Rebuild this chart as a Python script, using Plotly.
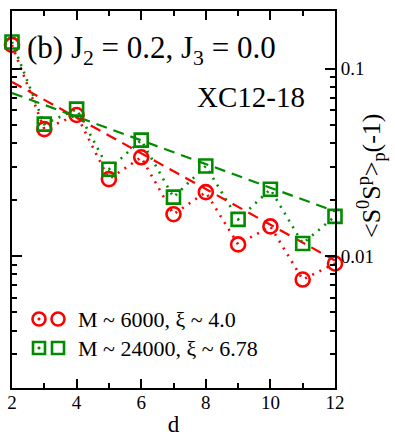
import plotly.graph_objects as go

# ---------------- data ----------------
d = [2, 3, 4, 5, 6, 7, 8, 9, 10, 11, 12]
corr_m6000 = [0.1336, 0.0475, 0.0565, 0.0257, 0.0336, 0.0167, 0.0219,
              0.01153, 0.01438, 0.00749, 0.00912]
corr_m24000 = [0.1386, 0.0505, 0.0607, 0.0290, 0.0415, 0.0206, 0.0302,
               0.01568, 0.02269, 0.01167, 0.01627]
fit_d = [2, 12]
fit_m6000 = [0.0848, 0.00947]
fit_m24000 = [0.0740, 0.0173]
legend_labels = ["M ~ 6000, ξ ~ 4.0", "M ~ 24000, ξ ~ 6.78"]
x_ticks = [2, 4, 6, 8, 10, 12]
x_minor = [3, 5, 7, 9, 11]
y_ticks = [0.01, 0.1]
y_tick_labels = ["0.01", "0.1"]
y_minor = [0.002, 0.003, 0.004, 0.005, 0.006, 0.007, 0.008, 0.009,
           0.02, 0.03, 0.04, 0.05, 0.06, 0.07, 0.08, 0.09]

RED = "#ff0000"
GREEN = "#008b00"
FONT = "Liberation Serif"

fig = go.Figure()

# dashed fits
fig.add_trace(go.Scatter(x=fit_d, y=fit_m6000, mode="lines",
                         line=dict(color=RED, width=2.2, dash="11px,7px"),
                         showlegend=False, cliponaxis=False))
fig.add_trace(go.Scatter(x=fit_d, y=fit_m24000, mode="lines",
                         line=dict(color=GREEN, width=2.2, dash="11px,7px"),
                         showlegend=False, cliponaxis=False))
# data with dotted connecting lines
fig.add_trace(go.Scatter(x=d, y=corr_m6000, mode="lines+markers",
                         line=dict(color=RED, width=2.6, dash="2px,6px"),
                         marker=dict(symbol="circle-open", size=14, color=RED,
                                     line=dict(width=2.6, color=RED)),
                         showlegend=False, cliponaxis=False))
fig.add_trace(go.Scatter(x=d, y=corr_m24000, mode="lines+markers",
                         line=dict(color=GREEN, width=2.6, dash="2px,6px"),
                         marker=dict(symbol="square-open", size=13, color=GREEN,
                                     line=dict(width=2.6, color=GREEN)),
                         showlegend=False, cliponaxis=False))

W, H = 395, 437
L, R, T, B = 12, 60, 11, 49
PW, PH = W - L - R, H - T - B


def px(xp):
    return (xp - L) / PW


def py(yp):
    return (H - B - yp) / PH


annotations = [
    dict(x=px(25), y=py(50), xref="paper", yref="paper", xanchor="left",
         yanchor="middle", showarrow=False,
         text="(b) J<sub>2</sub> = 0.2, J<sub>3</sub> = 0.0",
         font=dict(family=FONT, size=31, color="black")),
    dict(x=px(195), y=py(97), xref="paper", yref="paper", xanchor="left",
         yanchor="middle", showarrow=False, text="XC12-18",
         font=dict(family=FONT, size=29, color="black")),
    dict(x=px(76), y=py(319), xref="paper", yref="paper", xanchor="left",
         yanchor="middle", showarrow=False, text=legend_labels[0],
         font=dict(family=FONT, size=22, color="black")),
    dict(x=px(76), y=py(348), xref="paper", yref="paper", xanchor="left",
         yanchor="middle", showarrow=False, text=legend_labels[1],
         font=dict(family=FONT, size=22, color="black")),
    dict(x=px(371), y=py(176), xref="paper", yref="paper", xanchor="center",
         yanchor="middle", showarrow=False, textangle=-90,
         text="<S<sup>0</sup>S<sup>p</sup>><sub>p</sub>(-1)",
         font=dict(family=FONT, size=26, color="black")),
]

shapes = []
# legend symbols (pixel-sized shapes anchored in paper coords)
for cx, cy, kind, col in [(39, 319, "circle", RED), (58, 319, "circle", RED),
                          (39, 348, "rect", GREEN), (58, 348, "rect", GREEN)]:
    r = 6.5 if kind == "circle" else 6
    shapes.append(dict(type=kind, xref="paper", yref="paper",
                       xsizemode="pixel", ysizemode="pixel",
                       xanchor=px(cx), yanchor=py(cy),
                       x0=-r, x1=r, y0=-r, y1=r,
                       line=dict(color=col, width=2.6)))
for cx, cy, col in [(39, 319, RED), (39, 348, GREEN)]:
    shapes.append(dict(type="circle", xref="paper", yref="paper",
                       xsizemode="pixel", ysizemode="pixel",
                       xanchor=px(cx), yanchor=py(cy),
                       x0=-1.3, x1=1.3, y0=-1.3, y1=1.3,
                       fillcolor=col, line=dict(color=col, width=0.5)))

fig.update_layout(
    width=W, height=H,
    margin=dict(l=L, r=R, t=T, b=B, pad=0),
    paper_bgcolor="white", plot_bgcolor="white",
    showlegend=False,
    font=dict(family=FONT, size=19, color="black"),
    annotations=annotations,
    shapes=shapes,
    xaxis=dict(range=[2, 12], tickvals=x_ticks, ticks="inside", ticklen=9,
               tickwidth=2, tickcolor="black", showline=True, linewidth=2,
               linecolor="black", mirror="ticks", showgrid=False,
               zeroline=False, automargin=False, ticklabelstandoff=-4,
               tickfont=dict(family=FONT, size=19),
               title=dict(text="d", standoff=10,
                          font=dict(family=FONT, size=23)),
               minor=dict(tickvals=x_minor, ticks="inside", ticklen=5,
                          tickwidth=2, tickcolor="black", showgrid=False)),
    yaxis=dict(type="log", range=[-2.704, -0.6933], side="right",
               tickvals=y_ticks, ticktext=y_tick_labels, ticks="inside",
               ticklen=10, tickwidth=2, tickcolor="black", showline=True,
               linewidth=2, linecolor="black", mirror="ticks",
               showgrid=False, zeroline=False, automargin=False,
               tickfont=dict(family=FONT, size=19),
               minor=dict(tickvals=y_minor, ticks="inside", ticklen=5,
                          tickwidth=2, tickcolor="black", showgrid=False)),
)

fig.write_html("out.html",
               config={"displayModeBar": False},
               post_script="document.body.style.margin='0';"
                           "document.body.style.padding='0';")
